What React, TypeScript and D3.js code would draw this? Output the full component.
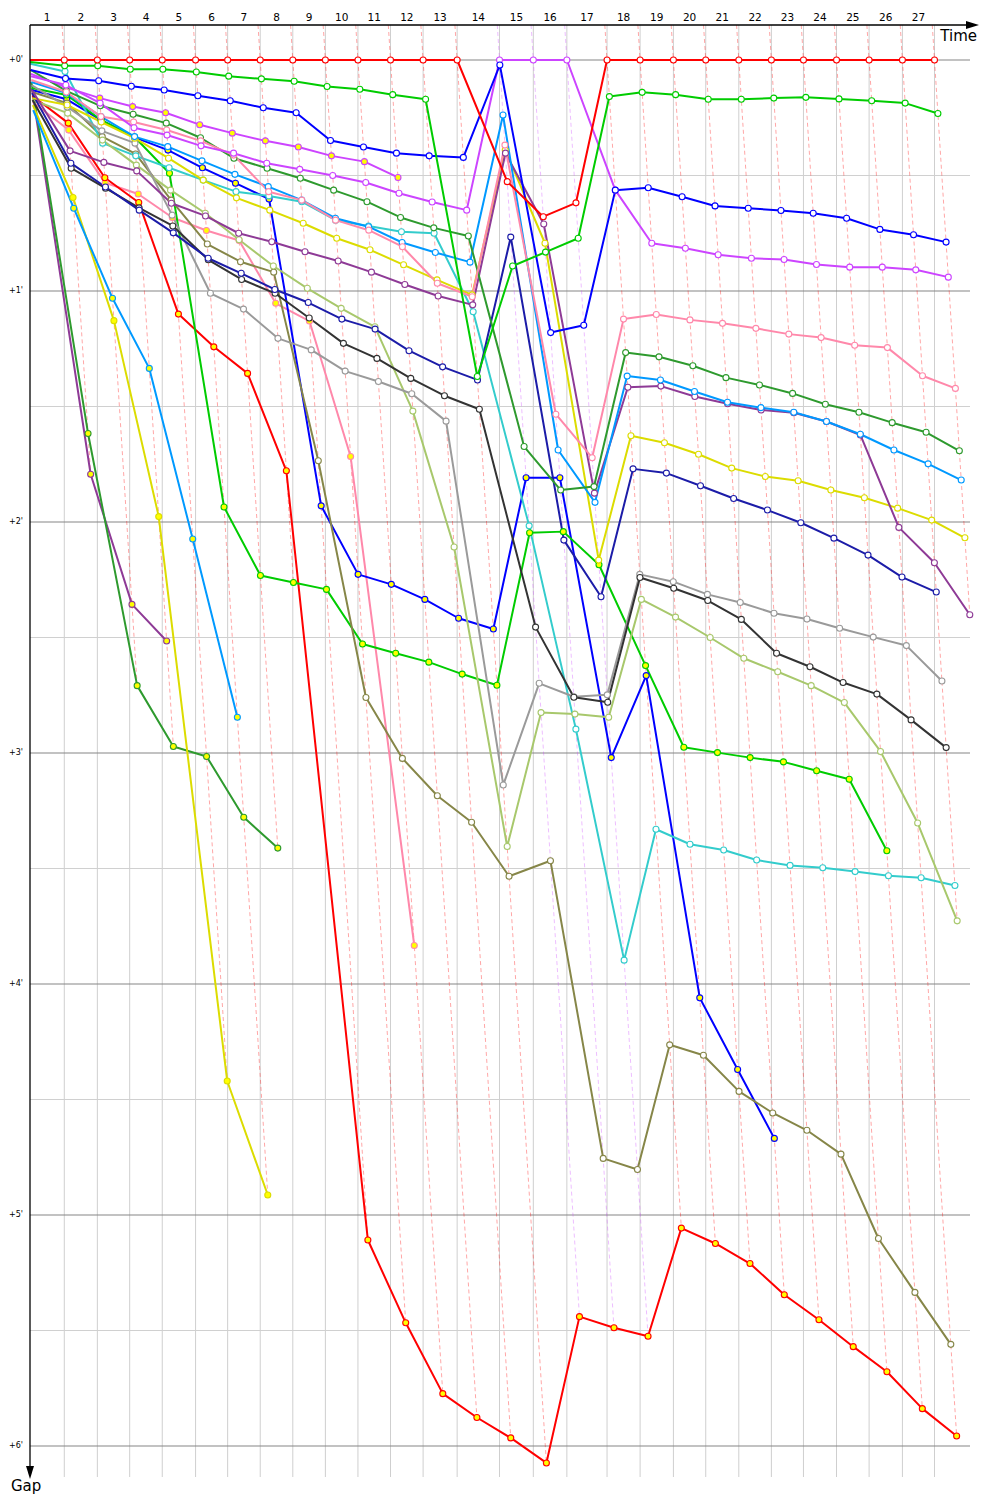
import React, { useRef, useEffect } from "react";
import * as d3 from "d3";

// leader lap times (s), lap 1..27
const leaderLapTimes = [140, 135, 132, 133, 136, 131, 133, 133, 133, 133, 133, 133, 139, 173, 138, 137, 164, 135, 136, 132, 135, 133, 131, 135, 133, 136, 131];
const lapLabels = ["1", "2", "3", "4", "5", "6", "7", "8", "9", "10", "11", "12", "13", "14", "15", "16", "17", "18", "19", "20", "21", "22", "23", "24", "25", "26", "27"];
const gapTicks = [0, 1, 2, 3, 4, 5, 6]; // minutes

// gap to the leader (s) at the end of each lap, index 0 = start
const redCar = [0, 0, 0, 0, 0, 0, 0, 0, 0, 0, 0, 0, 0, 0, 31.6, 40.7, 37.1, 0, 0, 0, 0, 0, 0, 0, 0, 0, 0, 0];
const greenCar = [0.5, 1.5, 1.5, 2.4, 2.4, 3.1, 4.2, 4.9, 5.5, 6.9, 7.6, 9.0, 10.2, 82.2, 53.5, 49.9, 46.3, 9.5, 8.4, 9.0, 10.2, 10.2, 9.9, 9.7, 10.1, 10.6, 11.2, 13.9];
const blueCar = [2.6, 4.8, 5.4, 6.8, 7.8, 9.3, 10.6, 12.4, 13.7, 20.9, 22.6, 24.2, 24.9, 25.3, 1.3, 70.8, 68.9, 33.8, 33.2, 35.5, 37.9, 38.5, 39.1, 39.8, 41.1, 44.0, 45.4, 47.3];
const violetCar = [4.2, 6.5, 11.2, 17.6, 19.5, 22.3, 24.2, 26.8, 28.4, 30.0, 31.8, 34.6, 36.9, 39.0, 0, 0, 0, 33.8, 47.6, 48.9, 50.6, 51.5, 51.8, 53.1, 53.8, 53.8, 54.5, 56.4];
const pinkCar = [5.2, 8.3, 14.7, 16.1, 18.2, 21.0, 24.7, 34.2, 36.4, 41.6, 44.2, 48.5, 58.0, 61.5, 22.1, 92.0, 103.3, 67.3, 66.1, 67.5, 68.4, 69.7, 71.2, 72.1, 74.1, 74.7, 82.0, 85.3];
const forestCar = [2.6, 8.0, 11.9, 14.1, 16.4, 20.2, 25.5, 28.1, 30.7, 33.8, 36.8, 40.9, 43.6, 45.7, 100.4, 111.7, 110.8, 76.0, 77.1, 79.4, 82.5, 84.4, 86.6, 89.4, 91.5, 94.2, 96.7, 101.5];
const skyCar = [5.7, 8.6, 14.7, 19.9, 22.5, 26.2, 29.7, 32.9, 36.4, 41.1, 43.3, 47.4, 50.0, 52.5, 14.3, 101.3, 114.9, 82.1, 83.1, 86.1, 88.9, 90.3, 91.5, 93.9, 97.2, 101.3, 104.9, 109.1];
const purpleCar = [7.8, 23.6, 26.6, 28.8, 37.2, 40.5, 45.0, 47.2, 49.8, 52.2, 55.1, 58.3, 61.3, 63.6, 24.2, 42.6, 112.5, 85.0, 84.7, 87.4, 89.3, 90.9, 91.6, 93.9, 97.4, 121.4, 130.6, 144.1];
const yellowCar = [9.9, 11.7, 16.1, 20.3, 25.5, 31.2, 35.8, 39.0, 42.4, 46.3, 49.3, 53.2, 57.1, 61.0, 23.4, 47.6, 129.9, 97.6, 99.4, 102.4, 106.0, 108.2, 109.3, 111.7, 113.7, 116.4, 119.5, 124.1];
const navyCar = [8.6, 26.8, 33.0, 39.0, 44.9, 51.5, 55.4, 59.6, 63.0, 67.3, 69.9, 75.5, 79.7, 83.1, 46.0, 124.7, 139.4, 106.2, 107.3, 110.6, 113.9, 116.9, 120.2, 124.2, 128.6, 134.3, 138.2];
const grayCar = [6.5, 12.2, 18.4, 21.6, 40.3, 60.6, 64.7, 72.3, 75.3, 80.8, 83.5, 86.7, 93.8, 188.3, 161.9, 165.4, 164.9, 133.6, 135.5, 138.8, 140.9, 143.7, 145.2, 147.6, 149.9, 152.1, 161.3];
const blackCar = [10.4, 28.1, 33.3, 38.4, 43.1, 51.9, 57.0, 60.6, 67.0, 73.6, 77.5, 82.7, 87.2, 90.7, 147.3, 165.5, 166.8, 134.4, 137.2, 140.4, 145.3, 154.1, 157.6, 161.7, 164.7, 171.4, 178.6];
const limeCar = [10.4, 13.8, 20.8, 27.3, 33.8, 39.8, 46.7, 53.5, 59.3, 64.5, 69.3, 91.2, 126.5, 204.3, 169.5, 169.9, 170.7, 140.1, 144.7, 150.0, 155.4, 158.9, 162.5, 166.9, 179.6, 198.2, 223.6];
const cyanCar = [1.0, 3.0, 21.6, 24.9, 28.0, 31.2, 34.2, 35.3, 36.8, 41.6, 43.1, 44.6, 45.0, 65.4, 121.0, 173.8, 233.8, 199.8, 203.7, 205.2, 207.8, 209.2, 209.8, 210.8, 211.9, 212.4, 214.4];
const oliveCar = [8.3, 11.2, 19.9, 24.4, 36.4, 47.8, 52.4, 55.1, 104.1, 165.6, 181.4, 191.1, 198.0, 212.0, 208.0, 285.3, 288.2, 255.8, 258.5, 267.9, 273.5, 278.0, 284.2, 306.1, 320.1, 333.6];
// second class (yellow markers)
const greenCar2 = [7.3, 9.1, 15.6, 20.0, 29.4, 116.1, 133.9, 135.7, 137.5, 151.7, 154.1, 156.4, 159.5, 162.4, 122.8, 122.5, 131.1, 157.3, 178.5, 179.9, 181.2, 182.3, 184.6, 186.8, 205.4];
const redCar2 = [9.3, 16.4, 30.6, 37.0, 66.0, 74.5, 81.4, 106.7, 306.5, 328.0, 346.4, 352.6, 357.9, 364.4, 326.4, 329.3, 331.5, 303.4, 307.4, 312.6, 320.7, 327.2, 334.2, 340.7, 350.3, 357.4];
const blueCar2 = [7.8, 10.2, 15.6, 20.1, 23.4, 28.0, 32.0, 36.1, 115.8, 133.6, 136.2, 140.1, 145.0, 147.8, 108.5, 108.5, 181.2, 159.9, 243.6, 262.2, 280.1];
const pinkCar2 = [10.9, 18.2, 31.9, 34.8, 40.9, 44.3, 46.9, 63.2, 67.8, 103.0, 230.0];
const yellowCar2 = [11.7, 35.7, 67.7, 118.6, 265.2, 294.8];
const forestCar2 = [5.7, 97.0, 162.5, 178.3, 180.9, 196.7, 204.7];
const skyCar2 = [13.0, 38.5, 61.9, 80.1, 124.4, 170.7];
const purpleCar2 = [7.3, 107.6, 141.4, 150.9];
const violetCar2 = [3.6, 7.1, 9.9, 12.1, 13.7, 16.8, 19.0, 21.0, 22.6, 24.9, 26.4, 30.5];

const series = [
  { gaps: purpleCar2, color: "#8e3a96", fill: "#ffff00" },
  { gaps: forestCar2, color: "#2e9a2e", fill: "#ffff00" },
  { gaps: yellowCar2, color: "#dcdc00", fill: "#ffff00" },
  { gaps: skyCar2, color: "#0099ff", fill: "#ffff00" },
  { gaps: pinkCar2, color: "#ff88aa", fill: "#ffff00" },
  { gaps: redCar2, color: "#ff0000", fill: "#ffff00" },
  { gaps: blueCar2, color: "#0000ff", fill: "#ffff00" },
  { gaps: greenCar2, color: "#00cc00", fill: "#ffff00" },
  { gaps: violetCar2, color: "#cc44ff", fill: "#ffff00" },
  { gaps: oliveCar, color: "#868648", fill: "#ffffff" },
  { gaps: cyanCar, color: "#33cccc", fill: "#ffffff" },
  { gaps: limeCar, color: "#a8c86c", fill: "#ffffff" },
  { gaps: grayCar, color: "#9a9a9a", fill: "#ffffff" },
  { gaps: blackCar, color: "#333333", fill: "#ffffff" },
  { gaps: navyCar, color: "#1c1ca8", fill: "#ffffff" },
  { gaps: yellowCar, color: "#dcdc00", fill: "#ffffff" },
  { gaps: purpleCar, color: "#8e3a96", fill: "#ffffff" },
  { gaps: skyCar, color: "#0099ff", fill: "#ffffff" },
  { gaps: forestCar, color: "#2e9a2e", fill: "#ffffff" },
  { gaps: pinkCar, color: "#ff88aa", fill: "#ffffff" },
  { gaps: violetCar, color: "#cc44ff", fill: "#ffffff" },
  { gaps: blueCar, color: "#0000ff", fill: "#ffffff" },
  { gaps: greenCar, color: "#00cc00", fill: "#ffffff" },
  { gaps: redCar, color: "#ff0000", fill: "#ffffff" },
];

const GapChart = () => {
  const svgRef = useRef(null);

  useEffect(() => {
    const width = 1000;
    const height = 1500;
    const left = 30;
    const top = 25;
    const right = 970;
    const bottom = 1477;

    const svg = d3.select(svgRef.current)
      .attr("width", width)
      .attr("height", height)
      .style("font-family", "'DejaVu Sans', sans-serif");

    svg.selectAll("*").remove();

    const cum = [0, ...d3.cumsum(leaderLapTimes)];
    const x = d3.scaleLinear().domain([0, cum[cum.length - 1]]).range([left, 934.5]);
    const y = d3.scaleLinear().domain([0, 360]).range([60, 1446]);

    svg.append("rect").attr("width", width).attr("height", height).attr("fill", "#fff");

    // vertical lap grid
    svg.selectAll(".vgrid")
      .data(cum.slice(1))
      .enter()
      .append("line")
      .attr("x1", d => x(d)).attr("x2", d => x(d))
      .attr("y1", top).attr("y2", bottom)
      .attr("stroke", "#cfcfcf")
      .attr("stroke-width", 1);

    // horizontal gap grid (each half minute)
    const halfTicks = d3.range(0, 6.01, 0.5);
    svg.selectAll(".hgrid")
      .data(halfTicks)
      .enter()
      .append("line")
      .attr("x1", left).attr("x2", right)
      .attr("y1", d => y(d * 60)).attr("y2", d => y(d * 60))
      .attr("stroke", d => (d % 1 === 0 ? "#858585" : "#d0d0d0"))
      .attr("stroke-width", 1);

    // lap lines: same lap for every car, coloured after the leader of that lap
    const topGap = y.invert(top);
    lapLabels.forEach((_, i) => {
      const lap = i + 1;
      const present = series.filter(s => s.gaps[lap] !== undefined);
      const maxGap = d3.max(present, s => s.gaps[lap]);
      const leader = present.reduce((a, b) => (b.gaps[lap] < a.gaps[lap] ? b : a));
      const c = d3.color(leader.color);
      c.opacity = 0.35;
      svg.append("line")
        .attr("x1", x(cum[lap] + topGap)).attr("y1", y(topGap))
        .attr("x2", x(cum[lap] + maxGap)).attr("y2", y(maxGap))
        .attr("stroke", c.formatRgb())
        .attr("stroke-width", 1)
        .attr("stroke-dasharray", "4,3");
    });

    // cars
    const line = d3.line()
      .x((d, i) => x(cum[i] + d))
      .y(d => y(d));

    series.forEach(s => {
      svg.append("path")
        .datum(s.gaps)
        .attr("fill", "none")
        .attr("stroke", s.color)
        .attr("stroke-width", 2)
        .attr("stroke-linejoin", "round")
        .attr("d", line);
    });

    series.forEach(s => {
      svg.append("g")
        .selectAll("circle")
        .data(s.gaps.map((g, lap) => ({ g, lap })).filter(d => d.lap > 0))
        .enter()
        .append("circle")
        .attr("cx", d => x(cum[d.lap] + d.g))
        .attr("cy", d => y(d.g))
        .attr("r", 3)
        .attr("fill", s.fill)
        .attr("stroke", s.color)
        .attr("stroke-width", 1.1);
    });

    // axes
    svg.append("line")
      .attr("x1", left).attr("x2", 968).attr("y1", top).attr("y2", top)
      .attr("stroke", "#000").attr("stroke-width", 1.3);
    svg.append("path").attr("d", `M966,${top - 4}L979,${top}L966,${top + 4}Z`).attr("fill", "#000");
    svg.append("line")
      .attr("x1", left).attr("x2", left).attr("y1", top).attr("y2", 1468)
      .attr("stroke", "#000").attr("stroke-width", 1.3);
    svg.append("path").attr("d", `M${left - 4},1466L${left},1479L${left + 4},1466Z`).attr("fill", "#000");

    svg.append("text").attr("x", 977).attr("y", 41).attr("text-anchor", "end")
      .attr("font-size", 15).attr("fill", "#000").text("Time");
    svg.append("text").attr("x", 11).attr("y", 1491)
      .attr("font-size", 15).attr("fill", "#000").text("Gap");

    // lap numbers
    svg.selectAll(".lapLabel")
      .data(lapLabels)
      .enter()
      .append("text")
      .attr("x", (d, i) => (x(cum[i]) + x(cum[i + 1])) / 2)
      .attr("y", 21)
      .attr("text-anchor", "middle")
      .attr("font-size", 10.5)
      .attr("fill", "#000")
      .text(d => d);

    // gap labels
    svg.selectAll(".gapLabel")
      .data(gapTicks)
      .enter()
      .append("text")
      .attr("x", 23)
      .attr("y", d => y(d * 60) + 2)
      .attr("text-anchor", "end")
      .attr("font-size", 8)
      .attr("fill", "#000")
      .text(d => `+${d}'`);
  }, []);

  return <svg ref={svgRef}></svg>;
};

export default function App() {
  return (
    <div style={{ position: "absolute", left: 0, top: 0 }}>
      <GapChart />
    </div>
  );
}
